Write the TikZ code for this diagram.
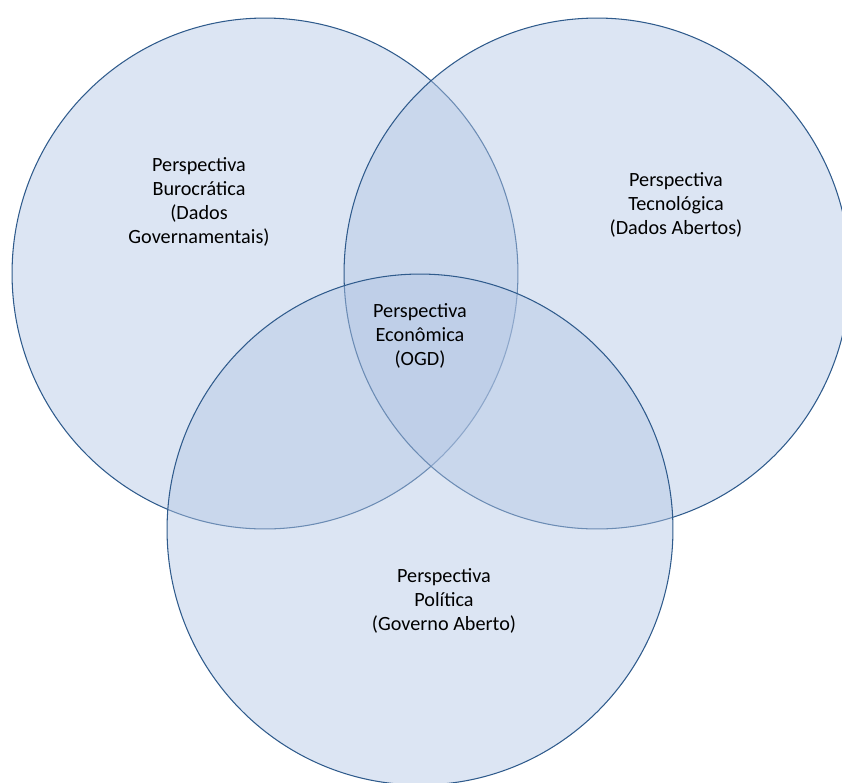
\documentclass[tikz,border=0pt]{standalone}
\usepackage{fontspec}
\setmainfont{Carlito}
\definecolor{setfill}{HTML}{B3C6E4}
\definecolor{setline}{HTML}{2F5B8C}

\tikzset{
  perspective/.style={fill=setfill, fill opacity=0.46, draw=setline, line width=0.6pt},
  settext/.style={align=center, text=black, font=\fontsize{11.5}{13.7}\selectfont}
}

\begin{document}
\begin{tikzpicture}[x=0.02cm, y=-0.02cm]

                  \useasboundingbox (0,0) rectangle (842,782);
                  \clip (0,0) rectangle (842,782);

                  \filldraw[perspective] (265,273.5) ellipse[x radius=5.06cm, y radius=5.11cm];
                  \filldraw[perspective] (597,273.5) ellipse[x radius=5.06cm, y radius=5.11cm];
                  \filldraw[perspective] (420,529.5) ellipse[x radius=5.06cm, y radius=5.11cm];

                  \node[settext] (buro) at (199,202) {Perspectiva\\Burocrática\\(Dados\\Governamentais)};
                  \node[settext] (tecno) at (676,205) {Perspectiva\\Tecnológica\\(Dados Abertos)};
                  \node[settext] (econ) at (420,336) {Perspectiva\\Econômica\\(OGD)};
                  \node[settext] (polit) at (444,601) {Perspectiva\\Política\\(Governo Aberto)};

              \end{tikzpicture}
\end{document}
